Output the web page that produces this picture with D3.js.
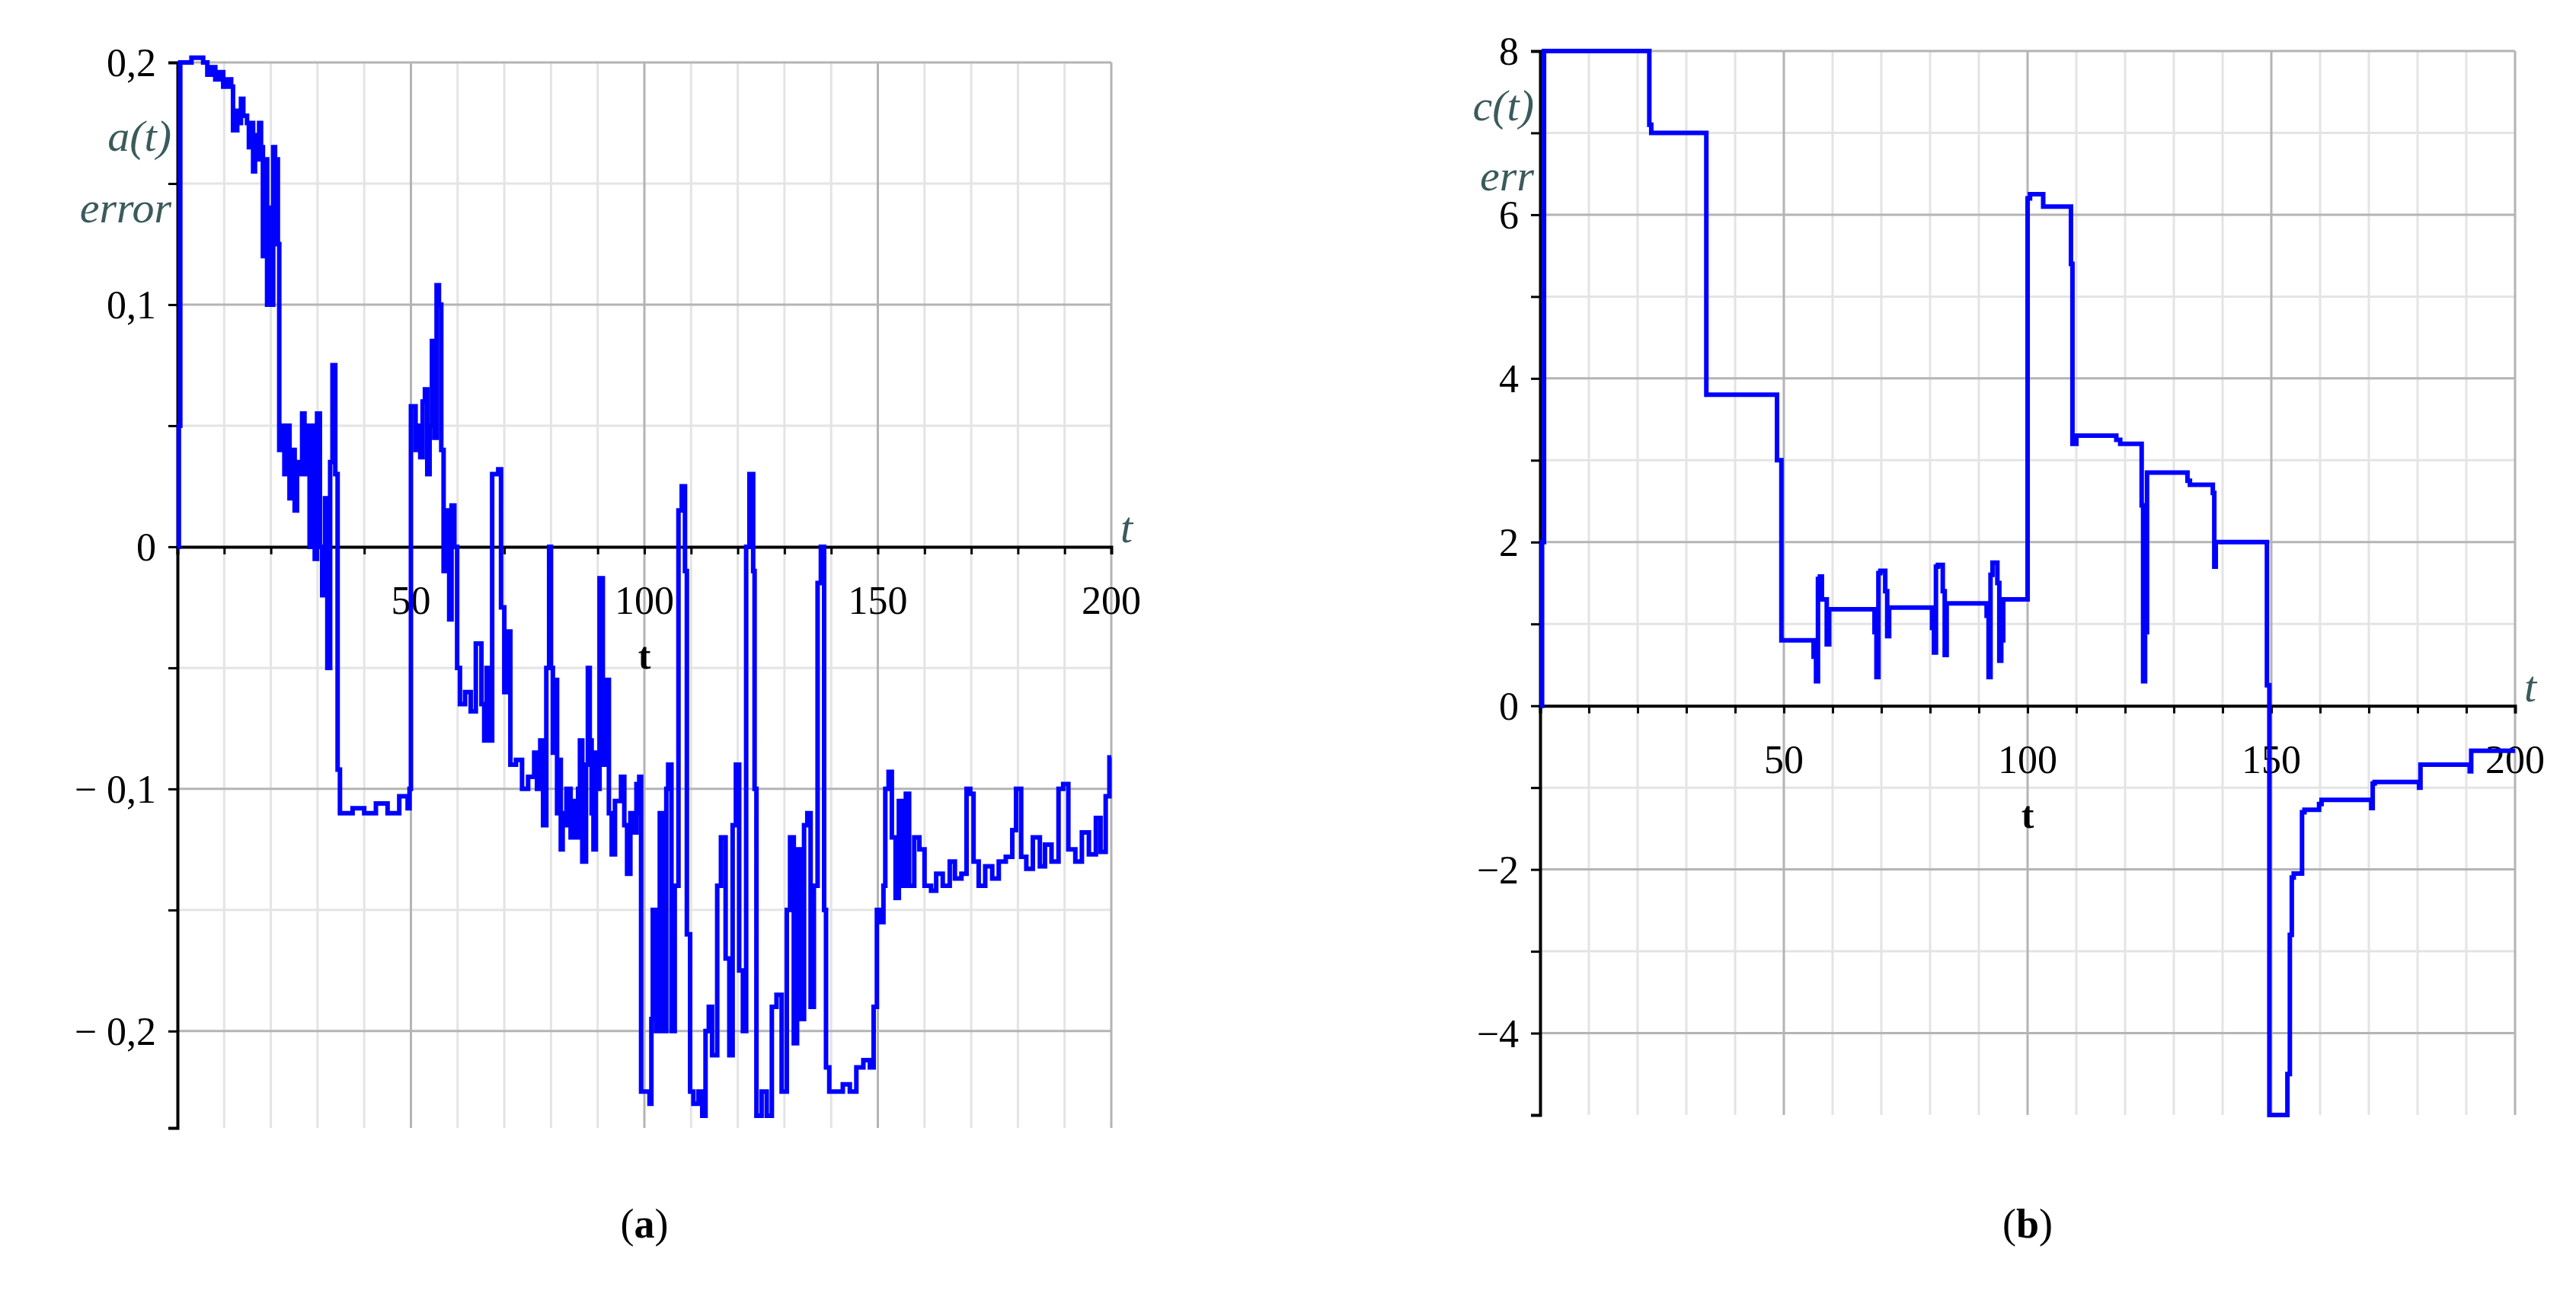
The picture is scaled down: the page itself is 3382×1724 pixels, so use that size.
<!DOCTYPE html>
<html>
<head>
<meta charset="utf-8">
<script src="https://cdn.jsdelivr.net/npm/d3@7"></script>
<style>
  body { margin: 0; background: #fff; }
  svg { display: block; font-family: "Liberation Serif", "DejaVu Serif", serif; }
</style>
</head>
<body>
<div id="chart"></div>
<script>
// (a) a(t) error
const tA = [0, 0.3, 0.6, 3, 5.5, 6.4, 7.2, 8.1, 8.9, 9.8, 10.6, 11.5, 11.9, 12.8, 13.2, 13.6, 14.1, 14.9, 15.3, 15.8, 16.2, 16.6, 17.0, 17.5, 17.9, 18.3, 18.7, 19.2, 19.6, 20.0, 20.5, 20.9, 21.3, 21.5, 21.8, 22.3, 22.9, 23.4, 24.0, 24.5, 25.1, 25.6, 26.1, 26.7, 27.2, 27.8, 28.3, 28.9, 29.4, 29.9, 30.5, 31.0, 31.6, 32.1, 32.7, 33.2, 33.8, 34.3, 34.8, 37.5, 40, 42.5, 45, 47.5, 49.3, 49.7, 50, 51, 51.5, 52, 52.5, 53, 53.5, 54, 54.5, 55, 55.5, 56, 56.5, 57, 57.6, 58.2, 58.7, 59.3, 59.9, 60.5, 61.6, 62.8, 63.9, 65.1, 65.7, 66.2, 66.8, 67.4, 68.7, 69.3, 70.0, 70.6, 71.3, 72.5, 73.8, 75.1, 76.4, 77.0, 77.7, 78.3, 79.0, 79.6, 80.0, 80.4, 80.8, 81.3, 81.7, 82.1, 82.5, 82.9, 83.3, 84.2, 85.0, 85.4, 85.8, 86.2, 86.7, 87.5, 87.9, 88.3, 88.7, 89.1, 89.6, 90.0, 90.4, 91.1, 91.7, 92.4, 93.0, 93.7, 95.0, 95.7, 96.3, 97.0, 97.6, 98.3, 98.6, 98.9, 99.3, 101.1, 101.5, 101.8, 102.5, 103.3, 104.0, 104.7, 105.1, 105.8, 106.5, 107.3, 108.0, 108.7, 109.1, 109.8, 110.5, 111.6, 112.4, 113.1, 113.8, 114.5, 115.6, 116.4, 117.4, 118.2, 118.9, 119.6, 120.3, 121.1, 121.8, 122.5, 123.3, 123.6, 124.0, 125.1, 126.2, 127.3, 128.3, 129.4, 130.5, 131.2, 132.0, 132.7, 133.4, 134.2, 134.9, 135.6, 136.3, 137.1, 137.8, 138.5, 138.9, 139.6, 141.1, 142.5, 144.0, 145.4, 146.9, 148.3, 149.1, 149.8, 150.5, 151.2, 151.6, 152.3, 153.0, 153.8, 154.5, 155.2, 156.0, 156.7, 157.8, 158.9, 160.0, 161.4, 162.5, 163.9, 165.4, 166.5, 167.9, 169.0, 169.8, 170.5, 171.6, 173.0, 174.5, 175.9, 177.4, 178.8, 179.6, 180.7, 181.8, 183.2, 184.7, 185.8, 187.2, 188.7, 189.7, 190.8, 192.3, 193.7, 195.2, 196.7, 197.7, 198.8, 199.6, 200];
const aVals = [0, 0.05, 0.2, 0.202, 0.2, 0.195, 0.198, 0.193, 0.196, 0.19, 0.193, 0.19, 0.172, 0.18, 0.175, 0.185, 0.178, 0.175, 0.165, 0.175, 0.155, 0.17, 0.16, 0.175, 0.165, 0.12, 0.16, 0.1, 0.14, 0.1, 0.165, 0.125, 0.16, 0.125, 0.04, 0.05, 0.03, 0.05, 0.02, 0.04, 0.015, 0.035, 0.03, 0.055, 0.03, 0.05, 0.0, 0.05, -0.005, 0.055, 0.0, -0.02, 0.02, -0.05, 0.035, 0.075, 0.03, -0.092, -0.11, -0.108, -0.11, -0.106, -0.11, -0.103, -0.108, -0.1, 0.058, 0.04, 0.05, 0.037, 0.06, 0.065, 0.03, 0.05, 0.085, 0.045, 0.108, 0.1, 0.04, -0.01, 0.015, -0.03, 0.017, 0.0, -0.05, -0.065, -0.06, -0.068, -0.04, -0.065, -0.08, -0.05, -0.08, 0.03, 0.032, -0.025, -0.06, -0.035, -0.09, -0.088, -0.1, -0.095, -0.085, -0.1, -0.08, -0.115, -0.05, 0.0, -0.05, -0.085, -0.055, -0.11, -0.088, -0.125, -0.11, -0.115, -0.1, -0.12, -0.105, -0.12, -0.1, -0.08, -0.13, -0.09, -0.05, -0.08, -0.11, -0.125, -0.085, -0.1, -0.013, -0.09, -0.055, -0.11, -0.127, -0.105, -0.095, -0.115, -0.135, -0.11, -0.118, -0.098, -0.11, -0.095, -0.225, -0.23, -0.195, -0.15, -0.2, -0.11, -0.2, -0.1, -0.09, -0.2, -0.14, 0.015, 0.025, -0.01, -0.16, -0.225, -0.23, -0.225, -0.235, -0.2, -0.19, -0.21, -0.14, -0.12, -0.17, -0.21, -0.115, -0.09, -0.175, -0.2, 0.0, 0.03, -0.01, -0.1, -0.235, -0.225, -0.235, -0.19, -0.185, -0.225, -0.15, -0.12, -0.205, -0.125, -0.195, -0.115, -0.11, -0.19, -0.14, -0.015, 0.0, -0.15, -0.215, -0.225, -0.225, -0.222, -0.225, -0.215, -0.212, -0.215, -0.19, -0.15, -0.155, -0.14, -0.1, -0.093, -0.12, -0.145, -0.105, -0.14, -0.102, -0.14, -0.12, -0.125, -0.14, -0.142, -0.135, -0.14, -0.13, -0.137, -0.135, -0.1, -0.102, -0.13, -0.14, -0.132, -0.137, -0.13, -0.128, -0.117, -0.1, -0.128, -0.133, -0.12, -0.132, -0.123, -0.13, -0.1, -0.098, -0.125, -0.13, -0.118, -0.127, -0.112, -0.126, -0.103, -0.087, -0.087];

// (b) c(t) err
const tC = [0, 0.4, 0.8, 22.4, 22.8, 23.2, 34.1, 34.5, 48.6, 49.5, 50, 56.1, 56.6, 57.0, 57.4, 57.8, 58.8, 59.3, 59.7, 60.2, 68.6, 69.0, 69.4, 69.8, 70.8, 71.2, 71.6, 72.0, 80.4, 80.8, 81.2, 81.6, 82.6, 83.0, 83.4, 83.8, 91.6, 92.0, 92.4, 92.8, 93.8, 94.2, 94.6, 95.0, 100, 100.5, 103.2, 104, 108.9, 109.2, 110, 118.2, 119, 123.4, 123.7, 124.1, 124.5, 124.8, 132.8, 133.3, 138, 138.3, 138.6, 139, 149.1, 149.6, 150.1, 153.3, 153.8, 154.2, 154.6, 156.3, 156.8, 159.8, 160.3, 170.5, 170.8, 171.2, 180.3, 180.6, 181, 190.7, 191, 191.5, 200];
const cVals = [0, 2, 8, 7.1, 7.0, 7.0, 3.8, 3.8, 3.0, 0.8, 0.8, 0.6, 0.3, 1.55, 1.58, 1.3, 0.75, 1.18, 1.18, 1.18, 0.9, 0.35, 1.62, 1.65, 1.4, 0.85, 1.2, 1.2, 0.95, 0.65, 1.7, 1.72, 1.4, 0.62, 1.25, 1.25, 1.1, 0.35, 1.6, 1.75, 1.5, 0.55, 0.8, 1.3, 6.2, 6.25, 6.1, 6.1, 5.4, 3.2, 3.3, 3.25, 3.2, 2.45, 0.3, 0.9, 2.85, 2.85, 2.75, 2.7, 2.6, 1.7, 2.0, 2.0, 0.25, -5, -5, -4.5, -2.8, -2.1, -2.05, -1.3, -1.27, -1.2, -1.15, -1.25, -0.95, -0.93, -1.0, -0.72, -0.72, -0.8, -0.55, -0.55, -0.55];

const xTicks = [50, 100, 150, 200];
const aTicks = [0.2, 0.1, 0, -0.1, -0.2];
const aTickLabels = ['0,2', '0,1', '0', '\u2212 0,1', '\u2212 0,2'];
const cTicks = [8, 6, 4, 2, 0, -2, -4];
const cTickLabels = ['8', '6', '4', '2', '0', '\u22122', '\u22124'];

const svg = d3.select('#chart').append('svg').attr('width', 3382).attr('height', 1724);

function panel(cfg) {
  const x = d3.scaleLinear().domain([0, 200]).range([cfg.left, cfg.right]);
  const y = d3.scaleLinear().domain(cfg.yDomain).range([cfg.bottom, cfg.top]);
  const g = svg.append('g');

  // minor grid
  g.selectAll('.vmin').data(d3.range(10, 201, 10).filter(v => v % 50)).join('line')
    .attr('x1', x).attr('x2', x).attr('y1', y(cfg.yDomain[1])).attr('y2', y(cfg.yDomain[0]))
    .attr('stroke', '#e4e4e4').attr('stroke-width', 3);
  g.selectAll('.hmin').data(cfg.minorY).join('line')
    .attr('x1', x(0)).attr('x2', x(200)).attr('y1', y).attr('y2', y)
    .attr('stroke', '#e4e4e4').attr('stroke-width', 3);
  // major grid
  g.selectAll('.vmaj').data(xTicks).join('line')
    .attr('x1', x).attr('x2', x).attr('y1', y(cfg.yDomain[1])).attr('y2', y(cfg.yDomain[0]))
    .attr('stroke', '#b4b4b4').attr('stroke-width', 3);
  g.selectAll('.hmaj').data(cfg.ticks.filter(v => v !== 0)).join('line')
    .attr('x1', x(0)).attr('x2', x(200)).attr('y1', y).attr('y2', y)
    .attr('stroke', '#b4b4b4').attr('stroke-width', 3);

  // axes
  const xAxis = d3.axisBottom(x).tickValues(d3.range(10, 201, 10)).tickSize(10).tickFormat('');
  g.append('g').attr('transform', `translate(0,${y(0)})`).call(xAxis)
    .call(s => s.select('.domain').attr('stroke-width', 4))
    .call(s => s.selectAll('.tick line').attr('stroke-width', 3));
  g.selectAll('.xl').data(xTicks).join('text')
    .attr('x', x).attr('y', y(0) + 88).attr('text-anchor', 'middle')
    .attr('font-size', 52).text(d => d);

  const yAxis = d3.axisLeft(y).tickValues(cfg.ticks.concat(cfg.minorY)).tickSize(12).tickFormat('');
  g.append('g').attr('transform', `translate(${x(0)},0)`).call(yAxis)
    .call(s => s.select('.domain').attr('stroke-width', 4))
    .call(s => s.selectAll('.tick line').attr('stroke-width', 3));
  g.selectAll('.yl').data(cfg.ticks).join('text')
    .attr('x', x(0) - 28).attr('y', d => y(d) + 18).attr('text-anchor', 'end')
    .attr('font-size', 52).text((d, i) => cfg.tickLabels[i]);

  // curve
  const line = d3.line().x(d => x(d[0])).y(d => y(d[1])).curve(d3.curveStepAfter);
  g.append('path').datum(d3.zip(cfg.t, cfg.v))
    .attr('d', line).attr('fill', 'none').attr('stroke', '#0000ff')
    .attr('stroke-width', 6).attr('stroke-linejoin', 'miter');

  // labels
  g.append('text').attr('x', x(200) + 12).attr('y', y(0) - 6)
    .attr('font-size', 58).attr('font-style', 'italic').attr('fill', '#3b5a5c').text('t');
  g.append('text').attr('x', x(100)).attr('y', y(0) + 160).attr('text-anchor', 'middle')
    .attr('font-size', 50).attr('font-weight', 'bold').text('t');
  cfg.titles.forEach((s, i) => {
    g.append('text').attr('x', x(0) - 8).attr('y', cfg.titleY[i]).attr('text-anchor', 'end')
      .attr('font-size', 58).attr('font-style', 'italic').attr('fill', '#3b5a5c').text(s);
  });
  const cap = g.append('text').attr('x', (cfg.left + cfg.right) / 2).attr('y', 1625)
    .attr('text-anchor', 'middle').attr('font-size', 54);
  cap.append('tspan').text('(');
  cap.append('tspan').attr('font-weight', 'bold').text(cfg.caption);
  cap.append('tspan').text(')');
}

panel({
  left: 233, right: 1459, top: 82, bottom: 1481, yDomain: [-0.24, 0.2],
  ticks: aTicks, tickLabels: aTickLabels, minorY: [0.15, 0.05, -0.05, -0.15],
  t: tA, v: aVals, titles: ['a(t)', 'error'], titleY: [198, 292], caption: 'a'
});
panel({
  left: 2022, right: 3302, top: 67, bottom: 1464, yDomain: [-5, 8],
  ticks: cTicks, tickLabels: cTickLabels, minorY: [7, 5, 3, 1, -1, -3],
  t: tC, v: cVals, titles: ['c(t)', 'err'], titleY: [158, 250], caption: 'b'
});
</script>
</body>
</html>
